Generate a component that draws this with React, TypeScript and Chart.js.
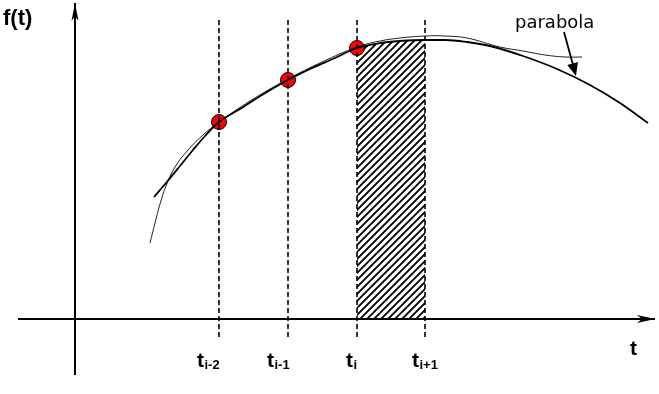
import React, { useEffect, useRef } from "react";
import { Chart, registerables } from "chart.js";

Chart.register(...registerables);

// ---- data (t = horizontal units from origin, f = vertical units from origin) ----
const NODE_T = [144, 213, 282, 350];
const NODE_SUB = ["i-2", "i-1", "i", "i+1"];
const SAMPLE_T = [144, 213, 282];
const SAMPLE_F = [197, 239, 271];

const PARABOLA_T = [79, 91, 105, 118, 130, 144, 165, 187, 213, 235, 260, 282, 305, 325, 350, 370, 392, 415, 448, 482, 515, 545, 573];
const PARABOLA_F = [122, 136, 153, 169, 183, 197, 210, 224, 239, 250, 261, 271, 276, 278, 279, 279, 277, 273, 263, 250, 234, 216, 196];

const CURVE_T = [75, 80, 85, 91, 100, 113, 128, 144, 175, 213, 247, 282, 305, 325, 350, 370, 392, 425, 448, 470, 490, 507];
const CURVE_F = [76, 96, 115, 133, 152, 169, 184, 197, 218, 240, 257, 272, 278, 281, 283, 283, 281, 272, 268, 264, 262, 262];

const T_AXIS = [-57, 580];
const F_AXIS = [-56, 316];
const DASH_F = [-18, 301];
const POINTER_FROM = [489, 287];
const POINTER_TO = [501, 243];

// ---- style ----
const LABEL_DX = [-22, -21, -11, -13];
const BOLD = '"Liberation Sans", Arial, sans-serif';

function head(ctx: CanvasRenderingContext2D, tx: number, ty: number, fx: number, fy: number, len: number, hw: number, notch: number) {
  const a = Math.atan2(ty - fy, tx - fx);
  const c = Math.cos(a), s = Math.sin(a);
  const bx = tx - len * c, by = ty - len * s;
  ctx.beginPath();
  ctx.moveTo(tx, ty);
  ctx.lineTo(bx - hw * s, by + hw * c);
  ctx.lineTo(tx - (len - notch) * c, ty - (len - notch) * s);
  ctx.lineTo(bx + hw * s, by - hw * c);
  ctx.closePath();
  ctx.fill();
}

const annotPlugin = {
  id: "annot",
  afterDatasetsDraw(chart: any) {
    const ctx: CanvasRenderingContext2D = chart.ctx;
    const X = (v: number) => chart.scales.x.getPixelForValue(v);
    const Y = (v: number) => chart.scales.y.getPixelForValue(v);
    ctx.save();
    ctx.fillStyle = "#000";
    ctx.strokeStyle = "#000";
    // axis arrow heads
    head(ctx, X(T_AXIS[1]), Y(0), X(T_AXIS[1] - 10), Y(0), 18, 4, 5);
    head(ctx, X(0), Y(F_AXIS[1]), X(0), Y(F_AXIS[1] - 10), 18, 3.5, 5);
    // pointer arrow
    const fx = X(POINTER_FROM[0]), fy = Y(POINTER_FROM[1]);
    const tx = X(POINTER_TO[0]), ty = Y(POINTER_TO[1]);
    const a = Math.atan2(ty - fy, tx - fx);
    ctx.lineWidth = 1.8;
    ctx.beginPath();
    ctx.moveTo(fx, fy);
    ctx.lineTo(tx - 10 * Math.cos(a), ty - 10 * Math.sin(a));
    ctx.stroke();
    head(ctx, tx, ty, fx, fy, 13, 5.5, 0);
    // texts
    ctx.textBaseline = "alphabetic";
    ctx.textAlign = "left";
    ctx.font = `bold 22px ${BOLD}`;
    ctx.fillText("f(t)", X(-72), Y(294));
    ctx.font = `bold 21px ${BOLD}`;
    ctx.fillText("t", X(555), Y(-36));
    NODE_T.forEach((t, i) => {
      const x0 = X(t) + LABEL_DX[i];
      ctx.font = `bold 21px ${BOLD}`;
      ctx.fillText("t", x0, Y(-48));
      const w = ctx.measureText("t").width;
      ctx.font = `bold 13px ${BOLD}`;
      ctx.fillText(NODE_SUB[i], x0 + w + 0.5, Y(-50));
    });
    ctx.font = '18px "DejaVu Sans", Verdana, sans-serif';
    ctx.fillText("parabola", X(440), Y(291));
    ctx.restore();
  },
};

function makeHatch(): CanvasPattern | string {
  const s = 7;
  const c = document.createElement("canvas");
  c.width = s;
  c.height = s;
  const g = c.getContext("2d");
  if (!g) return "#888";
  g.strokeStyle = "#000";
  g.lineWidth = 1.9;
  g.beginPath();
  g.moveTo(0, s);
  g.lineTo(s, 0);
  g.moveTo(-1, 1);
  g.lineTo(1, -1);
  g.moveTo(s - 1, s + 1);
  g.lineTo(s + 1, s - 1);
  g.stroke();
  return g.createPattern(c, "repeat") || "#888";
}

export default function App() {
  const ref = useRef<HTMLCanvasElement | null>(null);
  useEffect(() => {
    if (!ref.current) return;
    const hatch = makeHatch();
    const parabola = PARABOLA_T.map((t, i) => ({ x: t, y: PARABOLA_F[i] }));
    const curve = CURVE_T.map((t, i) => ({ x: t, y: CURVE_F[i] }));
    const hatchPts = parabola.filter((p) => p.x >= NODE_T[2] && p.x <= NODE_T[3]);
    const dashed = NODE_T.map((t) => ({
      type: "line" as const,
      data: [{ x: t, y: DASH_F[0] }, { x: t, y: DASH_F[1] }],
      borderColor: "#000",
      borderWidth: 1.6,
      borderDash: [5, 3],
      pointRadius: 0,
      fill: false,
      order: 5,
    }));
    const chart = new Chart(ref.current, {
      type: "line",
      data: {
        datasets: [
          {
            data: parabola,
            borderColor: "#000",
            borderWidth: 1.8,
            pointRadius: 0,
            cubicInterpolationMode: "monotone",
            fill: false,
            order: 1,
          },
          {
            data: curve,
            borderColor: "#222",
            borderWidth: 1,
            pointRadius: 0,
            tension: 0.4,
            fill: false,
            order: 2,
          },
          {
            data: [{ x: T_AXIS[0], y: 0 }, { x: T_AXIS[1], y: 0 }],
            borderColor: "#000",
            borderWidth: 2,
            pointRadius: 0,
            fill: false,
            order: 3,
          },
          {
            data: [{ x: 0, y: F_AXIS[0] }, { x: 0, y: F_AXIS[1] }],
            borderColor: "#000",
            borderWidth: 2,
            pointRadius: 0,
            fill: false,
            order: 3,
          },
          ...dashed,
          {
            type: "scatter" as const,
            data: SAMPLE_T.map((t, i) => ({ x: t, y: SAMPLE_F[i] })),
            showLine: false,
            pointRadius: 7.5,
            pointBackgroundColor: "#ff0000",
            pointBorderColor: "#000",
            pointBorderWidth: 1,
            order: 9,
          },
          {
            data: hatchPts,
            borderWidth: 0,
            borderColor: "rgba(0,0,0,0)",
            backgroundColor: hatch as any,
            pointRadius: 0,
            tension: 0.4,
            fill: "origin",
            order: 10,
          },
        ] as any,
      },
      options: {
        animation: false,
        responsive: false,
        devicePixelRatio: 1,
        layout: { padding: 0, autoPadding: false },
        plugins: { legend: { display: false }, tooltip: { enabled: false } },
        events: [],
        scales: {
          x: { type: "linear", min: -75, max: 584, display: false },
          y: { type: "linear", min: -75, max: 319, display: false },
        },
      },
      plugins: [annotPlugin],
    });
    return () => chart.destroy();
  }, []);
  return (
    <div style={{ position: "absolute", left: 0, top: 0, width: 659, height: 394, background: "#fff" }}>
      <canvas ref={ref} width={659} height={394} />
    </div>
  );
}
